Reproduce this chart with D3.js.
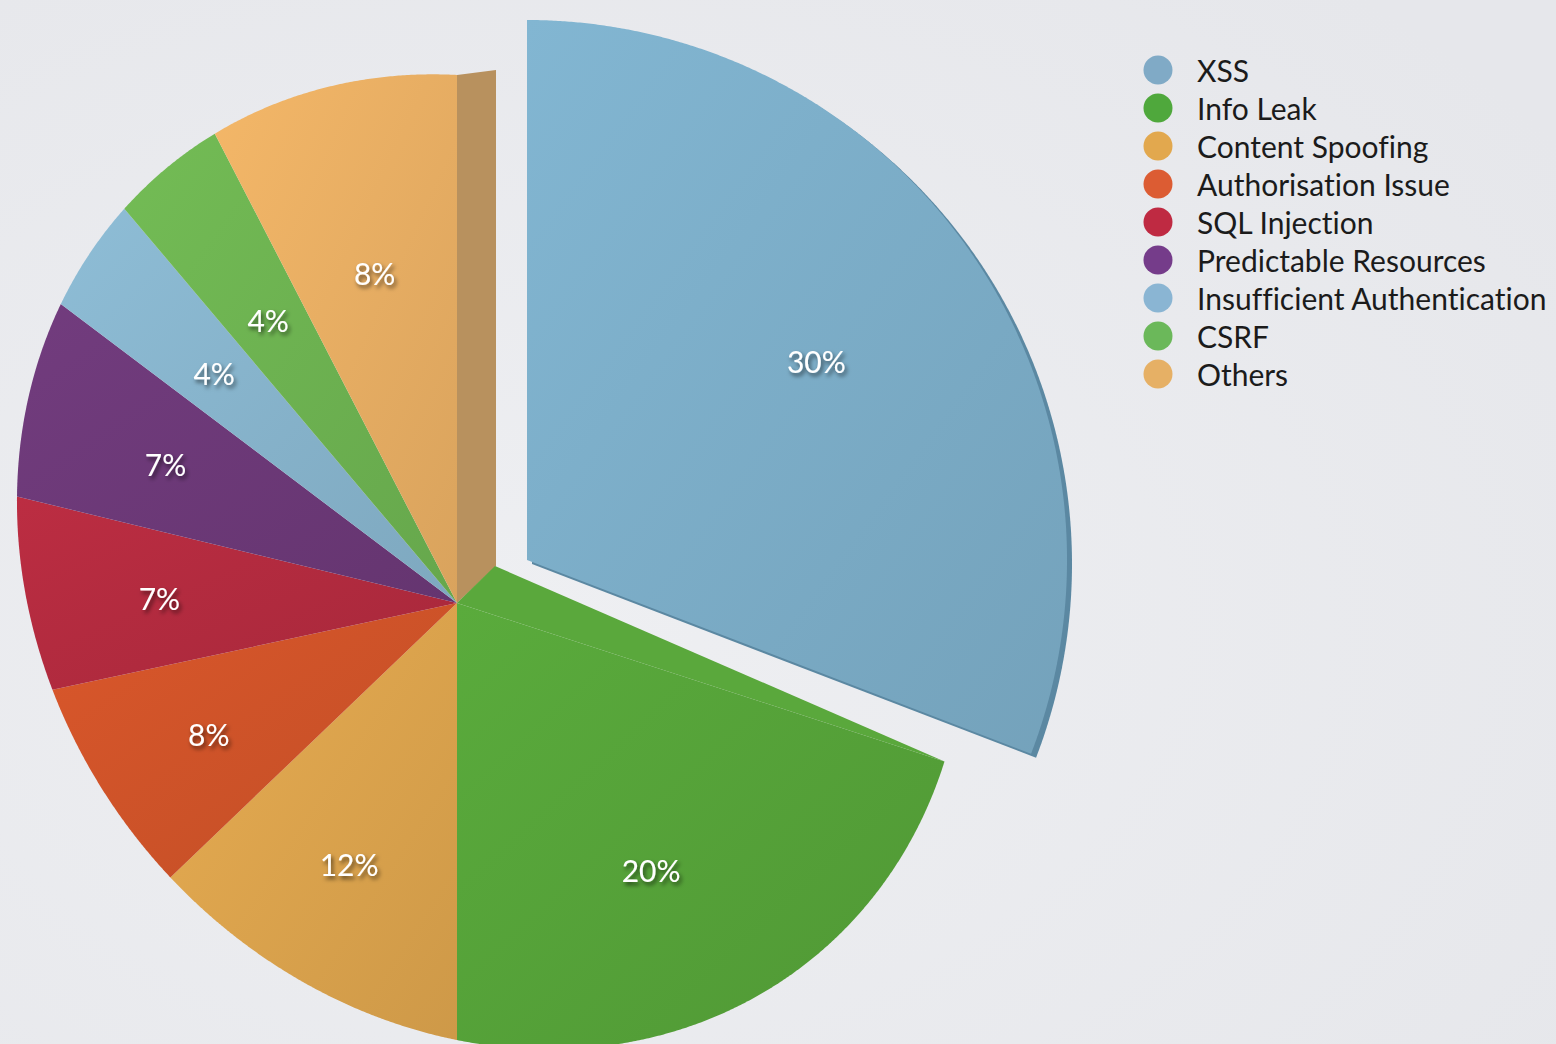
<!DOCTYPE html>
<html><head><meta charset="utf-8">
<script src="https://cdn.jsdelivr.net/npm/d3@7"></script>
<style>html,body{margin:0;padding:0;background:#e9eaed;overflow:hidden}
text{font-variant-ligatures:none;font-feature-settings:"liga" 0,"clig" 0,"dlig" 0;}</style>
</head><body>
<svg id="chart" width="1556" height="1044"></svg>
<script>
const categories = ["XSS","Info Leak","Content Spoofing","Authorisation Issue","SQL Injection","Predictable Resources","Insufficient Authentication","CSRF","Others"];
const values = [30,20,12,8,7,7,4,4,8];
const percentLabels = ["30%","20%","12%","8%","7%","7%","4%","4%","8%"];
const sliceColors = ["#7aabc5","#54a038","#d9a14c","#cc5228","#b02a3e","#6b3876","#85b1c9","#6cb050","#e5ac62"];
const legendColors = ["#80aac6","#4fa83c","#e2a84e","#dc5c33","#bf2a42","#753c8a","#8ab5d3","#6bb85a","#e6b065"];

const W = 1556, H = 1044;
// --- view / style parameters (tilted-disc look) ---
const V = [457, 603];                     // pie vertex on screen
const K = {A:0.045798, B:-0.010995, C:0.043334, D:-0.035845, E:0.03943}; // tilted disc outline (conic, 100px units)
const WARP = 6.5*Math.PI/180;             // angular foreshortening on the left half
const explodeOffset = [[70,-43],null,null,null,null,null,null,null,null];
const explodedRadius = 540;               // exploded slice is seen nearer, almost circular
const explodedStretch = 1.028;            // its angular spread is slightly widened by perspective
const labelFrac = [0.65,0.67,0.69,0.70,0.69,0.68,0.66,0.65,0.64];

function warp(a){ const s = Math.max(0, -Math.sin(a)); return a + WARP*s*s; }
function rimDist(phi){
  const dx = Math.sin(phi), dy = -Math.cos(phi);
  const Q = K.A*dx*dx + K.B*dx*dy + K.C*dy*dy, L = K.D*dx + K.E*dy;
  return 100*(-L + Math.sqrt(L*L + 4*Q))/(2*Q);
}
function polar(frac, a, i){
  const off = explodeOffset[i];
  if (off){
    const w = a*explodedStretch, r = explodedRadius*frac;
    return [V[0] + off[0] + r*Math.sin(w), V[1] + off[1] - r*Math.cos(w)];
  }
  const w = warp(a), r = rimDist(w)*frac;
  return [V[0] + r*Math.sin(w), V[1] - r*Math.cos(w)];
}

const svg = d3.select("#chart");
const defs = svg.append("defs");
const bg = defs.append("radialGradient").attr("id","bg").attr("cx","35%").attr("cy","60%").attr("r","80%");
bg.append("stop").attr("offset","0%").attr("stop-color","#eeeff2");
bg.append("stop").attr("offset","100%").attr("stop-color","#e6e7eb");
const sh = defs.append("filter").attr("id","tshadow").attr("x","-30%").attr("y","-30%").attr("width","160%").attr("height","160%");
sh.append("feDropShadow").attr("dx",2).attr("dy",3).attr("stdDeviation",2).attr("flood-color","#000").attr("flood-opacity",0.6);

sliceColors.forEach((c,i)=>{
  const g = defs.append("linearGradient").attr("id","sg"+i).attr("x1","0%").attr("y1","0%").attr("x2","100%").attr("y2","100%");
  g.append("stop").attr("offset","0%").attr("stop-color", d3.color(c).brighter(0.18));
  g.append("stop").attr("offset","100%").attr("stop-color", d3.color(c).darker(0.15));
});

svg.append("rect").attr("width",W).attr("height",H).attr("fill","url(#bg)");

const pie = d3.pie().sort(null).value(d=>d).startAngle(0).endAngle(2*Math.PI);
const arcs = pie(values);
const line = d3.line().curve(d3.curveLinearClosed);

function slicePoints(d, i){
  const off = explodeOffset[i] || [0,0];
  const pts = [[V[0]+off[0], V[1]+off[1]]];
  const n = Math.max(8, Math.ceil((d.endAngle - d.startAngle)/0.004));
  for (let k=0;k<=n;k++){
    const a = d.startAngle + (d.endAngle - d.startAngle)*k/n;
    pts.push(polar(1, a, i));
  }
  return pts;
}

const pieG = svg.append("g");
// side faces (pseudo-3D)
const O = polar(1, 2*Math.PI, 8);
pieG.append("path").attr("d", line([V, O, [O[0]+39,O[1]-5], [V[0]+39, V[1]-37]])).attr("fill","#b8915e");
const G = polar(1, arcs[1].startAngle, 1);
pieG.append("path").attr("d", line([V, [V[0]+38, V[1]-37], G])).attr("fill","#5aa83c");
// XSS rim
pieG.append("path").attr("d", line(slicePoints(arcs[0],0))).attr("transform","translate(5,4)").attr("fill","#5b88a2");

pieG.selectAll("path.slice").data(arcs).enter().append("path")
  .attr("class","slice")
  .attr("d",(d,i)=>line(slicePoints(d,i)))
  .attr("fill",(d,i)=>`url(#sg${i})`);

// labels
function labelPos(d,i){ return polar(labelFrac[i], (d.startAngle+d.endAngle)/2, i); }
svg.append("g").selectAll("text").data(arcs).enter().append("text")
  .attr("x",(d,i)=>labelPos(d,i)[0])
  .attr("y",(d,i)=>labelPos(d,i)[1])
  .attr("text-anchor","middle").attr("dominant-baseline","central")
  .attr("font-family","'Gill Sans', Lato, 'Open Sans', sans-serif").attr("font-size",30)
  .attr("fill","#ffffff").attr("filter","url(#tshadow)")
  .text((d,i)=>percentLabels[i]);

// legend
const legend = svg.append("g").attr("transform","translate(1158,70)");
const rows = legend.selectAll("g").data(categories).enter().append("g")
  .attr("transform",(d,i)=>`translate(0,${i*38})`);
rows.append("circle").attr("r",14.5).attr("fill",(d,i)=>legendColors[i]);
const texts = rows.append("text").attr("x",39).attr("dominant-baseline","central")
  .attr("font-family","'Gill Sans', Lato, 'Open Sans', sans-serif").attr("font-size",30)
  .attr("fill","#1b1b1b").text(d=>d);
const longest = d3.max(texts.nodes(), n=>n.getComputedTextLength());
if (longest > 352) texts.attr("font-size", 30*352/longest);
</script>
</body></html>
